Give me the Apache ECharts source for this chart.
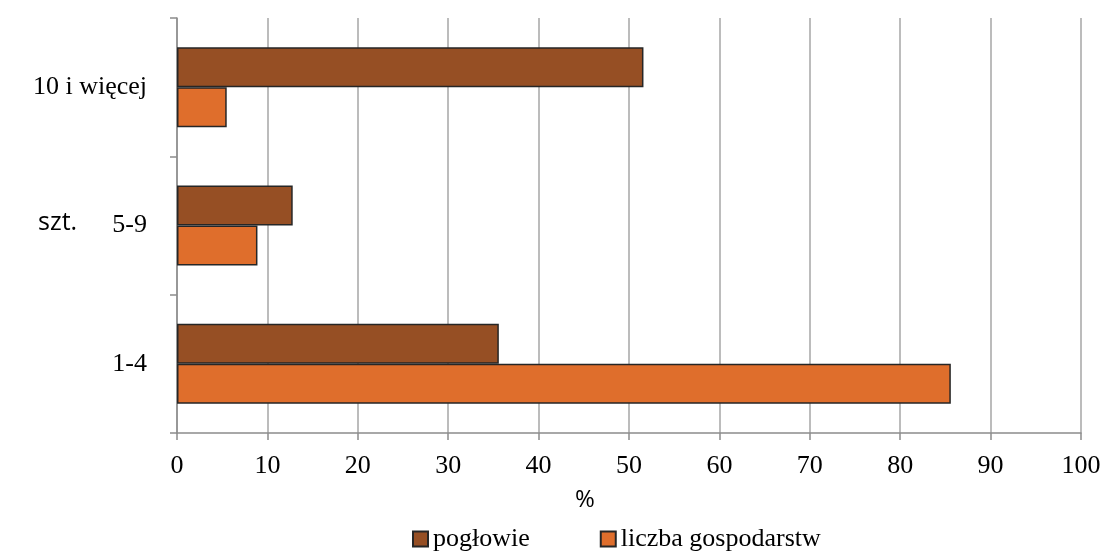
<!DOCTYPE html>
<html>
<head>
<meta charset="utf-8">
<script src="https://cdn.jsdelivr.net/npm/echarts@6/dist/echarts.min.js"></script>
<style>
    html, body { margin: 0; padding: 0; background: #fff; }
    #chart { width: 1105px; height: 552px; }
</style>
</head>
<body>
<div id="chart"></div>
<script>
// dane
var categories = ['1-4', '5-9', '10 i więcej'];
var poglowie = [35.6, 12.8, 51.6];
var liczbaGospodarstw = [85.6, 8.9, 5.5];
var xTicks = [0, 10, 20, 30, 40, 50, 60, 70, 80, 90, 100];

(function () {
    var chart = echarts.init(document.getElementById('chart'));
    var serif = '"Liberation Serif", "Times New Roman", serif';
    var sans = '"Open Sans", "Noto Sans", sans-serif';

    var option = {
        backgroundColor: '#fff',
        animation: false,
        grid: {
            left: 177,
            right: 24,
            top: 18,
            bottom: 119
        },
        legend: {
            left: 412,
            top: 526,
            padding: 0,
            itemWidth: 15,
            itemHeight: 15,
            itemGap: 70,
            icon: 'rect',
            data: ['pogłowie', 'liczba gospodarstw'],
            textStyle: {
                fontFamily: serif,
                fontSize: 26,
                color: '#000'
            }
        },
        graphic: [{
            type: 'text',
            left: 38,
            top: 210,
            style: {
                text: 'szt.',
                font: '25px ' + sans,
                fill: '#000'
            }
        }, {
            type: 'text',
            left: 575,
            top: 488,
            style: {
                text: '%',
                font: '24px ' + sans,
                fill: '#000'
            }
        }],
        xAxis: {
            type: 'value',
            min: 0,
            max: 100,
            interval: 10,
            axisLine: {
                show: true,
                lineStyle: { color: '#8c8c8c', width: 1.5 }
            },
            axisTick: {
                show: true,
                length: 7,
                lineStyle: { color: '#8c8c8c', width: 1.5 }
            },
            axisLabel: {
                margin: 20,
                fontFamily: serif,
                fontSize: 26,
                color: '#000',
                formatter: function (v) {
                    return xTicks.indexOf(v) >= 0 ? String(v) : '';
                }
            },
            splitLine: {
                show: true,
                lineStyle: { color: '#a6a6a6', width: 1.5 }
            }
        },
        yAxis: {
            type: 'category',
            data: categories,
            axisLine: {
                show: true,
                lineStyle: { color: '#8c8c8c', width: 1.5 }
            },
            axisTick: {
                show: true,
                length: 7,
                lineStyle: { color: '#8c8c8c', width: 1.5 }
            },
            axisLabel: {
                margin: 30,
                fontFamily: serif,
                fontSize: 26,
                color: '#000'
            },
            splitLine: { show: false }
        },
        series: [{
            name: 'pogłowie',
            type: 'bar',
            barWidth: 40,
            barGap: '0%',
            itemStyle: {
                color: '#964f24',
                borderColor: '#262626',
                borderWidth: 1.5
            },
            data: poglowie
        }, {
            name: 'liczba gospodarstw',
            type: 'bar',
            barWidth: 40,
            barGap: '0%',
            itemStyle: {
                color: '#df6e2c',
                borderColor: '#262626',
                borderWidth: 1.5
            },
            data: liczbaGospodarstw
        }]
    };
    chart.setOption(option);
})();
</script>
</body>
</html>
